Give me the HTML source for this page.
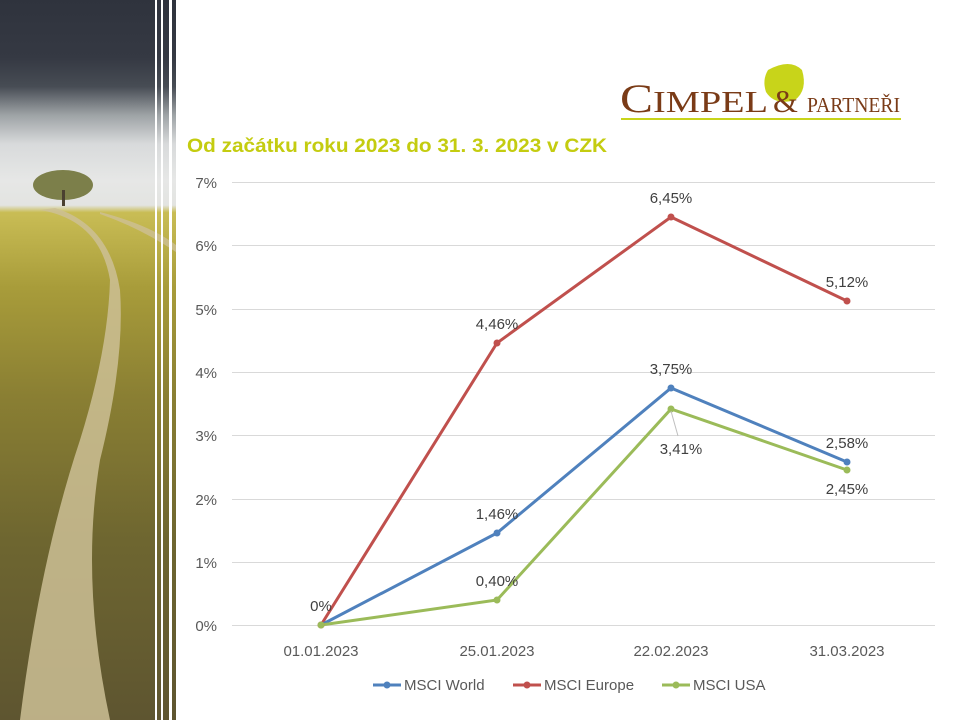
<!DOCTYPE html>
<html><head><meta charset="utf-8"><style>
body{margin:0;width:960px;height:720px;overflow:hidden;background:#fff;font-family:"Liberation Sans",sans-serif;position:relative}
#photo{position:absolute;left:0;top:0;width:176px;height:720px;
background:linear-gradient(180deg,#2f333d 0%,#353943 8%,#474c54 12%,#9ea3a6 16%,#d8dadb 20%,#e6e7e6 25%,#e3e4e1 28.5%,#c9bd55 29.5%,#a89c3a 40%,#8a7f33 55%,#6e6630 75%,#5e5530 100%)}
#path{position:absolute;left:0;top:0}
</style></head><body>
<div id="photo"></div>
<svg id="path" width="960" height="720">
<path d="M40 210 Q100 220 110 280 Q108 350 80 440 Q40 560 20 720 L110 720 Q80 580 100 460 Q125 360 120 290 Q110 225 55 208Z" fill="#cdbf95" opacity="0.85"/>
<path d="M100 212 Q150 225 176 245 L176 252 Q140 228 100 214Z" fill="#cdbf95" opacity="0.8"/>
<ellipse cx="63" cy="185" rx="30" ry="15" fill="#7c7f4a"/>
<rect x="62" y="190" width="3" height="16" fill="#4a4030"/>
<rect x="155" y="0" width="2" height="720" fill="#fff"/>
<rect x="161" y="0" width="2" height="720" fill="#fff"/>
<rect x="169" y="0" width="3" height="720" fill="#fff"/>
<!-- logo -->
<path d="M768 70 Q790 58 802 70 Q808 90 795 100 Q775 106 766 92 Q762 80 768 70Z" fill="#c8d41a"/>
<text x="620" y="112" font-family="Liberation Serif,serif" font-size="40" fill="#7a3b17" textLength="148" lengthAdjust="spacingAndGlyphs">C<tspan font-size="31">IMPEL</tspan></text>
<text x="773" y="112" font-family="Liberation Serif,serif" font-size="32" fill="#7a3b17">&amp;</text>
<text x="807" y="112" font-family="Liberation Serif,serif" font-size="21" fill="#7a3b17" textLength="93" lengthAdjust="spacingAndGlyphs">PARTNEŘI</text>
<rect x="621" y="118" width="280" height="2" fill="#c8d41a"/>
<text x="187" y="152" font-size="19" font-weight="bold" fill="#c4cc10" textLength="420" lengthAdjust="spacingAndGlyphs">Od začátku roku 2023  do 31. 3. 2023 v CZK</text>
<g stroke="#d9d9d9" stroke-width="1">
<line x1="232" y1="625.5" x2="935" y2="625.5"/><line x1="232" y1="562.5" x2="935" y2="562.5"/>
<line x1="232" y1="499.5" x2="935" y2="499.5"/><line x1="232" y1="435.5" x2="935" y2="435.5"/>
<line x1="232" y1="372.5" x2="935" y2="372.5"/><line x1="232" y1="309.5" x2="935" y2="309.5"/>
<line x1="232" y1="245.5" x2="935" y2="245.5"/><line x1="232" y1="182.5" x2="935" y2="182.5"/>
</g>
<g font-size="15" fill="#595959" text-anchor="end">
<text x="217" y="631">0%</text><text x="217" y="568">1%</text><text x="217" y="505">2%</text>
<text x="217" y="441">3%</text><text x="217" y="378">4%</text><text x="217" y="315">5%</text>
<text x="217" y="251">6%</text><text x="217" y="188">7%</text>
</g>
<g font-size="15" fill="#595959" text-anchor="middle">
<text x="321" y="656">01.01.2023</text><text x="497" y="656">25.01.2023</text>
<text x="671" y="656">22.02.2023</text><text x="847" y="656">31.03.2023</text>
</g>
<g stroke-width="3" fill="none">
<polyline points="321,625 497,343 671,217 847,301" stroke="#c0504d"/>
<polyline points="321,625 497,533 671,388 847,462" stroke="#4f81bd"/>
<polyline points="321,625 497,600 671,409 847,470" stroke="#9bbb59"/>
</g>
<g fill="#c0504d"><circle cx="321" cy="625" r="3.5"/><circle cx="497" cy="343" r="3.5"/><circle cx="671" cy="217" r="3.5"/><circle cx="847" cy="301" r="3.5"/></g>
<g fill="#4f81bd"><circle cx="497" cy="533" r="3.5"/><circle cx="671" cy="388" r="3.5"/><circle cx="847" cy="462" r="3.5"/></g>
<g fill="#9bbb59"><circle cx="321" cy="625" r="3.5"/><circle cx="497" cy="600" r="3.5"/><circle cx="671" cy="409" r="3.5"/><circle cx="847" cy="470" r="3.5"/></g>
<line x1="671" y1="411" x2="678" y2="436" stroke="#bfbfbf"/>
<g font-size="15" fill="#404040" text-anchor="middle">
<text x="321" y="611">0%</text>
<text x="497" y="329">4,46%</text><text x="671" y="203">6,45%</text><text x="847" y="287">5,12%</text>
<text x="497" y="519">1,46%</text><text x="671" y="374">3,75%</text><text x="847" y="448">2,58%</text>
<text x="497" y="586">0,40%</text><text x="681" y="454">3,41%</text><text x="847" y="494">2,45%</text>
</g>
<g font-size="15" fill="#595959">
<line x1="373" y1="685" x2="401" y2="685" stroke="#4f81bd" stroke-width="3"/><circle cx="387" cy="685" r="3.5" fill="#4f81bd"/>
<text x="404" y="690">MSCI World</text>
<line x1="513" y1="685" x2="541" y2="685" stroke="#c0504d" stroke-width="3"/><circle cx="527" cy="685" r="3.5" fill="#c0504d"/>
<text x="544" y="690">MSCI Europe</text>
<line x1="662" y1="685" x2="690" y2="685" stroke="#9bbb59" stroke-width="3"/><circle cx="676" cy="685" r="3.5" fill="#9bbb59"/>
<text x="693" y="690">MSCI USA</text>
</g>
</svg>
</body></html>
